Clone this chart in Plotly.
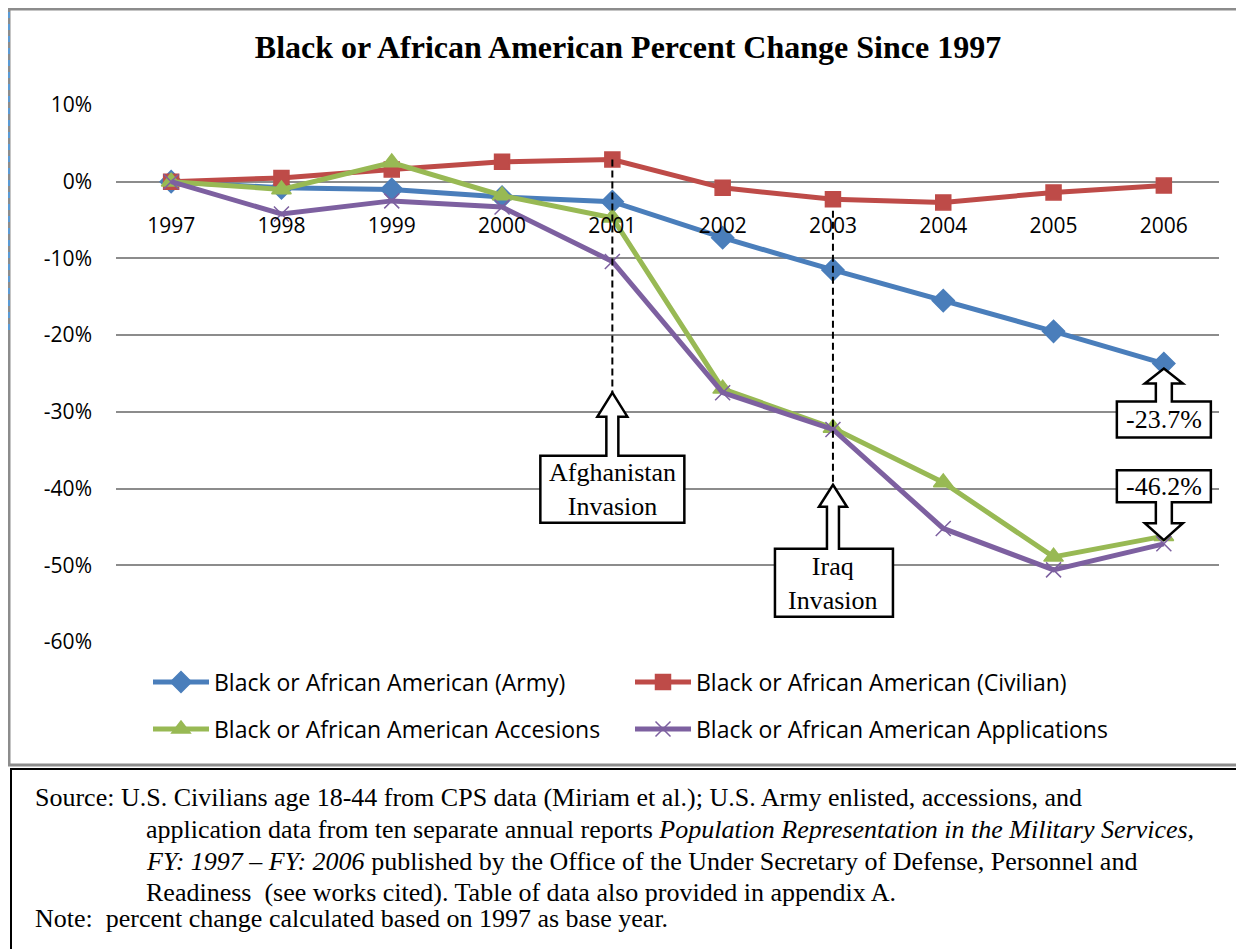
import plotly.graph_objects as go

years = [1997, 1998, 1999, 2000, 2001, 2002, 2003, 2004, 2005, 2006]
army = [0, -0.8, -1.0, -2.0, -2.6, -7.3, -11.5, -15.5, -19.5, -23.7]
civilian = [0, 0.5, 1.6, 2.6, 2.9, -0.8, -2.3, -2.7, -1.4, -0.5]
accessions = [0, -1.0, 2.5, -1.8, -4.7, -27.0, -32.1, -39.2, -48.9, -46.2]
applications = [0, -4.2, -2.5, -3.3, -10.4, -27.5, -32.3, -45.2, -50.6, -47.2]
y_ticks = [-60, -50, -40, -30, -20, -10, 0, 10]
y_labels = [f"{v}%" for v in y_ticks]

# the page body adds an 8px margin around the figure
OFF = 8
FW, FH = 1244 - OFF, 949 - OFF
# plot area in page pixels
L, R, T, B = 116, 1219, 105, 642
W, H = R - L, B - T


def px(x):
    return (x - L) / W


def py(y):
    return (B - y) / H


serif = "Liberation Serif"
sans = "Open Sans"

series = [
    ("Black or African American (Army)", army, "#4a7ebb", "diamond", 17, "legend"),
    ("Black or African American (Civilian)", civilian, "#be4b48", "square", 15, "legend2"),
    ("Black or African American Accesions", accessions, "#98b954", "triangle-up", 17, "legend3"),
    ("Black or African American Applications", applications, "#7d60a0", "x-thin-open", 15, "legend4"),
]

fig = go.Figure()
for name, vals, col, sym, sz, leg in series:
    fig.add_trace(go.Scatter(
        x=years, y=vals, name=name, mode="lines+markers",
        line=dict(color=col, width=5),
        marker=dict(symbol=sym, size=sz, color=col, line=dict(color=col, width=1.5)),
        legend=leg,
    ))

shapes = []
# chart frame (grey), blue dashed edge, source box (black)
shapes.append(dict(type="rect", xref="paper", yref="paper", x0=px(9), x1=px(1260),
                   y0=py(9), y1=py(765), line=dict(color="#8c8c8c", width=3)))
shapes.append(dict(type="line", xref="paper", yref="paper", x0=px(9), x1=px(9),
                   y0=py(0), y1=py(335), line=dict(color="#5b9bd5", width=2, dash="6px,6px")))
shapes.append(dict(type="rect", xref="paper", yref="paper", x0=px(11), x1=px(1260),
                   y0=py(769), y1=py(960), line=dict(color="black", width=2)))

# dashed event lines
shapes.append(dict(type="line", x0=2001, x1=2001, y0=civilian[4], y1=-27.5,
                   line=dict(color="black", width=2, dash="7px,4px")))
shapes.append(dict(type="line", x0=2003, x1=2003, y0=-3.8, y1=-39.5,
                   line=dict(color="black", width=2, dash="7px,4px")))


def callout(x, y, pts):
    d = "M " + " L ".join(f"{a},{b}" for a, b in pts) + " Z"
    return dict(type="path", xsizemode="pixel", ysizemode="pixel", xanchor=x, yanchor=y,
                path=d, fillcolor="white", line=dict(color="black", width=2.5), layer="above")


# up arrows with box below
shapes.append(callout(2001, -27.5, [(0, 0), (15, -24), (6, -24), (6, -63), (72, -63), (72, -130),
                                    (-72, -130), (-72, -63), (-6, -63), (-6, -24), (-15, -24)]))
shapes.append(callout(2003, -39.5, [(0, 0), (14, -22), (6, -22), (6, -64), (60, -64), (60, -132),
                                    (-58, -132), (-58, -64), (-6, -64), (-6, -22), (-14, -22)]))
shapes.append(callout(2006, army[-1], [(0, -5), (19, -20), (8, -20), (8, -38), (47, -38), (47, -74),
                                       (-47, -74), (-47, -38), (-8, -38), (-8, -20), (-19, -20)]))
# down arrow with box above
shapes.append(callout(2006, accessions[-1], [(0, -4), (19, 13), (8, 13), (8, 34), (47, 34), (47, 66),
                                             (-47, 66), (-47, 34), (-8, 34), (-8, 13), (-19, 13)]))

callout_font = dict(family=serif, size=26, color="black")
annotations = [
    dict(x=2001, y=-27.5, yshift=-97, text="Afghanistan<br>Invasion", showarrow=False, font=callout_font),
    dict(x=2003, y=-39.5, yshift=-99, text="Iraq<br>Invasion", showarrow=False, font=callout_font),
    dict(x=2006, y=army[-1], yshift=-56, text=f"{army[-1]:.1f}%", showarrow=False, font=callout_font),
    dict(x=2006, y=accessions[-1], yshift=50, text=f"{accessions[-1]:.1f}%", showarrow=False, font=callout_font),
]

source_lines = [
    (33, 797, "Source: U.S. Civilians age 18-44 from CPS data (Miriam et al.); U.S. Army enlisted, accessions, and"),
    (144, 829, "application data from ten separate annual reports <i>Population Representation in the Military Services,</i>"),
    (144, 861, "<i>FY: 1997 – FY: 2006</i> published by the Office of the Under Secretary of Defense, Personnel and"),
    (144, 892, "Readiness  (see works cited). Table of data also provided in appendix A."),
    (33, 918, "Note:  percent change calculated based on 1997 as base year."),
]
for x, y, t in source_lines:
    annotations.append(dict(xref="paper", yref="paper", x=px(x), y=py(y), xanchor="left", yanchor="middle",
                            text=t, showarrow=False, font=dict(family=serif, size=26, color="black")))

legend_pos = {"legend": (148, 682), "legend2": (630, 682), "legend3": (148, 729), "legend4": (630, 729)}
legends = {}
for key, (lx, ly) in legend_pos.items():
    legends[key] = dict(x=px(lx), y=py(ly), xanchor="left", yanchor="middle", itemwidth=56,
                        bgcolor="rgba(0,0,0,0)", font=dict(family=sans, size=23, color="black"))

fig.update_layout(
    width=FW, height=FH,
    margin=dict(l=L - OFF, r=FW - (R - OFF), t=T - OFF, b=FH - (B - OFF)),
    paper_bgcolor="white", plot_bgcolor="white",
    title=dict(text="<b>Black or African American Percent Change Since 1997</b>",
               x=(628 - OFF) / FW, xref="container", xanchor="center",
               y=1 - (47 - OFF) / FH, yref="container", yanchor="middle",
               font=dict(family=serif, size=32, color="black")),
    shapes=shapes, annotations=annotations,
    showlegend=True,
    **legends,
)
fig.update_xaxes(range=[1996.5, 2006.5], tickvals=years, showgrid=False, zeroline=False, showline=False,
                 anchor="free", position=60 / 70, ticks="", ticklabelstandoff=29,
                 tickfont=dict(family=sans, size=21, color="black"))
fig.update_yaxes(range=[-60, 10], tickvals=y_ticks, ticktext=y_labels, showgrid=True, gridcolor="#8c8c8c",
                 gridwidth=1.5, zeroline=True, zerolinecolor="#8c8c8c", zerolinewidth=1.5, ticks="",
                 ticklabelstandoff=23, tickfont=dict(family=sans, size=21, color="black"))

fig.write_html("out.html", config={"displayModeBar": False})
